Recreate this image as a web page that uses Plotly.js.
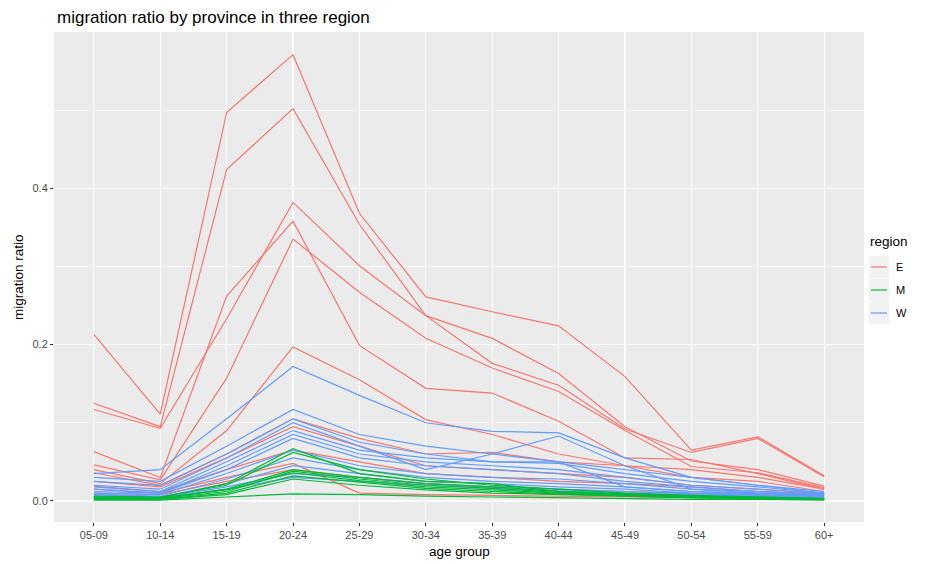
<!DOCTYPE html>
<html>
<head>
<meta charset="utf-8">
<script src="https://cdn.plot.ly/plotly-3.0.1.min.js"></script>
<style>
  html, body { margin: 0; padding: 0; background: #ffffff; }
  #chart { width: 933px; height: 564px; }
</style>
</head>
<body>
<div id="chart"></div>
<script>
// Age groups on the x axis
const ageGroups = ['05-09','10-14','15-19','20-24','25-29','30-34','35-39','40-44','45-49','50-54','55-59','60+'];

// Y axis ticks
const yTickVals = [0, 0.2, 0.4];
const yTickText = ['0.0', '0.2', '0.4'];
const yMinorVals = [0.1, 0.3, 0.5];

// Region labels for the legend
const regions = ['E', 'M', 'W'];

// East provinces
const eastSeries = [
  [0.213, 0.111, 0.497, 0.571, 0.368, 0.261, 0.242, 0.224, 0.159, 0.065, 0.082, 0.032],
  [0.125, 0.095, 0.424, 0.502, 0.354, 0.237, 0.176, 0.148, 0.092, 0.062, 0.080, 0.031],
  [0.117, 0.093, 0.233, 0.382, 0.301, 0.237, 0.208, 0.163, 0.095, 0.051, 0.040, 0.019],
  [0.063, 0.030, 0.262, 0.358, 0.199, 0.144, 0.138, 0.102, 0.055, 0.053, 0.035, 0.015],
  [0.046, 0.027, 0.157, 0.335, 0.267, 0.208, 0.170, 0.140, 0.090, 0.044, 0.036, 0.017],
  [0.040, 0.022, 0.090, 0.197, 0.155, 0.104, 0.085, 0.060, 0.045, 0.040, 0.030, 0.015],
  [0.036, 0.020, 0.060, 0.105, 0.080, 0.060, 0.062, 0.050, 0.045, 0.030, 0.025, 0.012],
  [0.025, 0.018, 0.055, 0.095, 0.070, 0.045, 0.040, 0.035, 0.030, 0.020, 0.015, 0.010],
  [0.019, 0.012, 0.040, 0.065, 0.050, 0.035, 0.030, 0.025, 0.022, 0.018, 0.012, 0.008],
  [0.015, 0.010, 0.030, 0.048, 0.010, 0.008, 0.007, 0.006, 0.005, 0.004, 0.004, 0.003],
  [0.010, 0.008, 0.025, 0.040, 0.030, 0.022, 0.018, 0.015, 0.012, 0.010, 0.008, 0.006]
];

// Middle provinces
const middleSeries = [
  [0.005, 0.004, 0.022, 0.067, 0.035, 0.025, 0.022, 0.012, 0.008, 0.006, 0.005, 0.003],
  [0.006, 0.005, 0.020, 0.062, 0.040, 0.028, 0.020, 0.015, 0.010, 0.007, 0.005, 0.003],
  [0.004, 0.003, 0.015, 0.040, 0.030, 0.022, 0.018, 0.012, 0.009, 0.006, 0.004, 0.003],
  [0.003, 0.003, 0.012, 0.038, 0.028, 0.020, 0.016, 0.011, 0.008, 0.005, 0.004, 0.002],
  [0.004, 0.004, 0.014, 0.036, 0.026, 0.018, 0.014, 0.010, 0.007, 0.005, 0.004, 0.002],
  [0.003, 0.002, 0.010, 0.032, 0.024, 0.016, 0.012, 0.009, 0.006, 0.004, 0.003, 0.002],
  [0.002, 0.002, 0.008, 0.028, 0.020, 0.014, 0.010, 0.008, 0.006, 0.004, 0.003, 0.002],
  [0.001, 0.001, 0.005, 0.009, 0.008, 0.006, 0.005, 0.004, 0.003, 0.002, 0.002, 0.001]
];

// West provinces
const westSeries = [
  [0.035, 0.040, 0.105, 0.172, 0.135, 0.100, 0.089, 0.087, 0.055, 0.030, 0.020, 0.012],
  [0.030, 0.025, 0.070, 0.117, 0.085, 0.070, 0.060, 0.050, 0.040, 0.030, 0.020, 0.010],
  [0.025, 0.020, 0.060, 0.105, 0.075, 0.060, 0.050, 0.048, 0.035, 0.025, 0.018, 0.010],
  [0.020, 0.015, 0.055, 0.100, 0.070, 0.040, 0.060, 0.083, 0.045, 0.015, 0.012, 0.008],
  [0.018, 0.012, 0.050, 0.090, 0.065, 0.055, 0.050, 0.050, 0.018, 0.012, 0.010, 0.007],
  [0.015, 0.010, 0.045, 0.085, 0.060, 0.050, 0.045, 0.040, 0.030, 0.020, 0.015, 0.009],
  [0.012, 0.010, 0.040, 0.080, 0.055, 0.045, 0.040, 0.035, 0.025, 0.018, 0.012, 0.008],
  [0.010, 0.008, 0.035, 0.065, 0.045, 0.035, 0.030, 0.028, 0.022, 0.015, 0.010, 0.007],
  [0.008, 0.006, 0.028, 0.055, 0.040, 0.030, 0.025, 0.022, 0.018, 0.012, 0.009, 0.006],
  [0.008, 0.005, 0.022, 0.045, 0.035, 0.025, 0.022, 0.018, 0.015, 0.010, 0.008, 0.005],
  [0.006, 0.004, 0.018, 0.035, 0.030, 0.022, 0.018, 0.015, 0.012, 0.009, 0.007, 0.004],
  [0.005, 0.004, 0.015, 0.030, 0.025, 0.020, 0.016, 0.013, 0.010, 0.008, 0.006, 0.004]
];

const regionColors = { E: '#F8766D', M: '#00BA38', W: '#619CFF' };

// Page geometry (pixels)
const W = 933, H = 564;
const margin = { l: 54, r: 69, t: 32, b: 42 };
const plotW = W - margin.l - margin.r;
const plotH = H - margin.t - margin.b;
const px2x = px => (px - margin.l) / plotW;
const px2y = py => (H - margin.b - py) / plotH;

const traces = [];
function addRegion(seriesList, region) {
  seriesList.forEach((vals) => {
    traces.push({
      x: ageGroups,
      y: vals,
      type: 'scatter',
      mode: 'lines',
      name: region,
      legendgroup: region,
      showlegend: false,
      hoverinfo: 'skip',
      line: { color: regionColors[region], width: 1.2 }
    });
  });
}
addRegion(eastSeries, 'E');
addRegion(westSeries, 'W');
addRegion(middleSeries, 'M');

const textFont = 'Liberation Sans, Arial, sans-serif';

// Legend drawn as keys + labels to the right of the panel
const shapes = [];
const annotations = [];
const keyRows = [267, 290, 313];
regions.forEach((r, i) => {
  const cy = keyRows[i];
  shapes.push({
    type: 'rect', xref: 'paper', yref: 'paper',
    x0: px2x(869), x1: px2x(889), y0: px2y(cy + 11), y1: px2y(cy - 11),
    fillcolor: '#F2F2F2', line: { width: 0 }, layer: 'above'
  });
  shapes.push({
    type: 'line', xref: 'paper', yref: 'paper',
    x0: px2x(871), x1: px2x(887), y0: px2y(cy), y1: px2y(cy),
    line: { color: regionColors[r], width: 1.2 }, layer: 'above'
  });
  annotations.push({
    text: r, xref: 'paper', yref: 'paper',
    x: px2x(894), y: px2y(cy), xanchor: 'left', yanchor: 'middle',
    showarrow: false, font: { family: textFont, size: 11, color: '#000000' }
  });
});
annotations.push({
  text: 'region', xref: 'paper', yref: 'paper',
  x: px2x(868), y: px2y(241), xanchor: 'left', yanchor: 'middle',
  showarrow: false, font: { family: textFont, size: 13.5, color: '#000000' }
});
annotations.push({
  text: 'age group', xref: 'paper', yref: 'paper',
  x: 0.5, y: px2y(551), xanchor: 'center', yanchor: 'middle',
  showarrow: false, font: { family: textFont, size: 13.5, color: '#000000' }
});
annotations.push({
  text: 'migration ratio', xref: 'paper', yref: 'paper',
  x: px2x(18), y: 0.5, xanchor: 'center', yanchor: 'middle', textangle: -90,
  showarrow: false, font: { family: textFont, size: 13.5, color: '#000000' }
});

const layout = {
  width: W, height: H,
  margin: margin,
  paper_bgcolor: '#ffffff',
  plot_bgcolor: '#EBEBEB',
  showlegend: false,
  title: {
    text: 'migration ratio by province in three region',
    x: 57 / W, xref: 'container', xanchor: 'left',
    y: 1 - 17 / H, yref: 'container', yanchor: 'middle',
    font: { family: textFont, size: 17, color: '#000000' }
  },
  xaxis: {
    type: 'category',
    categoryorder: 'array', categoryarray: ageGroups,
    range: [-0.6, ageGroups.length - 1 + 0.6],
    showgrid: true, gridcolor: '#ffffff', gridwidth: 1.3,
    zeroline: false, showline: false,
    ticks: 'outside', ticklen: 3, tickwidth: 1, tickcolor: '#333333',
    tickfont: { family: textFont, size: 11, color: '#4D4D4D' },
    fixedrange: true
  },
  yaxis: {
    range: [-0.027, 0.6],
    tickvals: yTickVals, ticktext: yTickText,
    showgrid: true, gridcolor: '#ffffff', gridwidth: 1.3,
    minor: { tickvals: yMinorVals, showgrid: true, gridcolor: '#ffffff', gridwidth: 0.6, ticks: '' },
    zeroline: false, showline: false,
    ticks: 'outside', ticklen: 3, tickwidth: 1, tickcolor: '#333333',
    tickfont: { family: textFont, size: 11, color: '#4D4D4D' },
    fixedrange: true
  },
  shapes: shapes,
  annotations: annotations
};

Plotly.newPlot('chart', traces, layout, { displayModeBar: false, staticPlot: true });
</script>
</body>
</html>
